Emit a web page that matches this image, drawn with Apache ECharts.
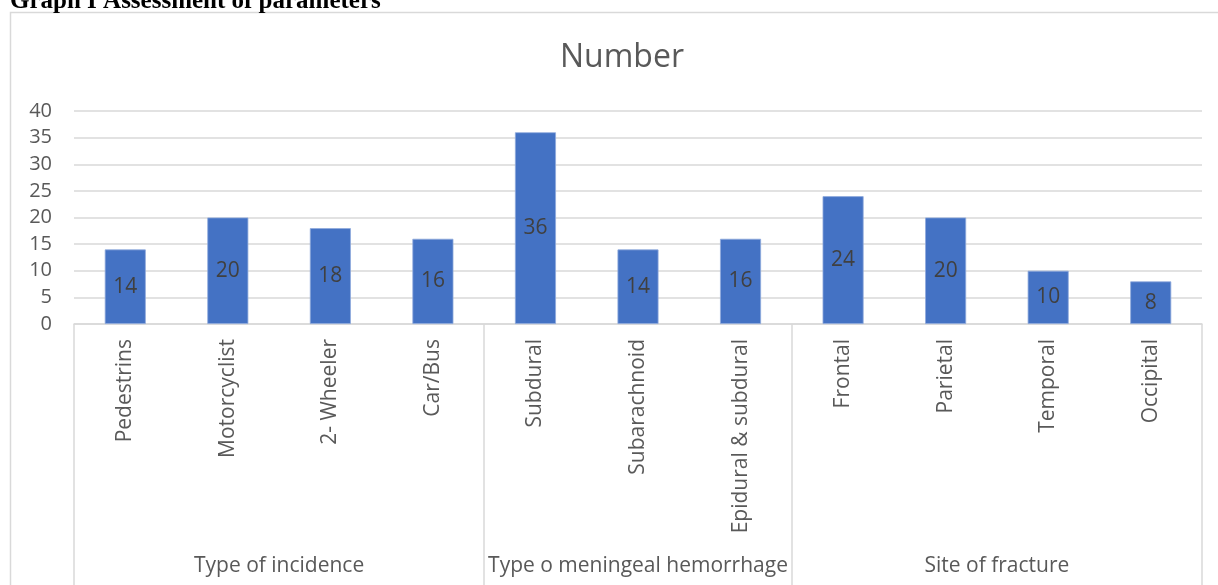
<!DOCTYPE html>
<html>
<head>
<meta charset="utf-8">
<script src="https://cdn.jsdelivr.net/npm/echarts@6/dist/echarts.min.js"></script>
<style>
html,body{margin:0;padding:0;background:#fff;}
#chart{width:1218px;height:585px;}
</style>
</head>
<body>
<div id="chart"></div>
<script>
const pageTitle = "Graph I Assessment of parameters";
const chartTitle = "Number";
const categories = ["Pedestrins","Motorcyclist","2- Wheeler","Car/Bus","Subdural","Subarachnoid","Epidural & subdural","Frontal","Parietal","Temporal","Occipital"];
const values = [14,20,18,16,36,14,16,24,20,10,8];
const groupNames = ["Type of incidence","Type o meningeal hemorrhage","Site of fracture"];
const groupSizes = [4,3,4];
const yTicks = {min:0, max:40, interval:5};

// group boundaries and centers derived from group sizes
const boundaries = [0];
groupSizes.forEach(s => boundaries.push(boundaries[boundaries.length-1] + s));
const centers = groupSizes.map((s,i) => boundaries[i] + s/2);

const FONT = "'Open Sans', 'Liberation Sans', Arial, sans-serif";
const TXT = '#595959';
const LINE = '#d9d9d9';

const chart = echarts.init(document.getElementById('chart'), null, {renderer:'canvas'});
chart.setOption({
  animation:false,
  backgroundColor:'#fff',
  title:{
    text: chartTitle, left: 555, top: 37,
    textStyle:{fontFamily:FONT, fontSize:32, fontWeight:'normal', color:TXT}
  },
  graphic:[
    {type:'rect', shape:{x:10.5,y:12.5,width:1230,height:600}, style:{fill:null, stroke:LINE, lineWidth:1.5}, silent:true, z:-1},
    {type:'text', x:10, y:14, style:{text:pageTitle, verticalAlign:'bottom', font:"bold 25px 'Liberation Serif', 'Times New Roman', serif", fill:'#000'}, z:10}
  ],
  grid:{left:74, right:16, top:111, bottom:261, containLabel:false},
  xAxis:[
    {
      type:'category', data:categories, position:'bottom',
      axisLine:{show:true, lineStyle:{color:LINE, width:1.5}},
      axisTick:{show:false},
      axisLabel:{rotate:90, fontFamily:FONT, fontSize:21, color:TXT, margin:15, interval:0}
    },
    {
      type:'value', min:0, max:categories.length, position:'bottom',
      axisLine:{show:false},
      splitLine:{show:false},
      axisTick:{show:true, inside:false, length:270, customValues:boundaries, lineStyle:{color:LINE, width:1.5}},
      axisLabel:{show:true, customValues:centers, margin:232, fontFamily:FONT, fontSize:21, color:TXT,
        formatter:function(v){ const i = centers.indexOf(v); return i>=0 ? groupNames[i] : ''; }}
    }
  ],
  yAxis:{
    type:'value', min:yTicks.min, max:yTicks.max, interval:yTicks.interval,
    axisLine:{show:false}, axisTick:{show:false},
    splitLine:{lineStyle:{color:LINE, width:1.5}},
    axisLabel:{fontFamily:FONT, fontSize:20, color:TXT, margin:22}
  },
  series:[{
    type:'bar', data:values, xAxisIndex:0, barWidth:'40%',
    itemStyle:{color:'#4472c4', borderColor:'#8faadc', borderWidth:0.8},
    label:{show:true, position:'inside', fontFamily:FONT, fontSize:21, color:'#404040'}
  }]
});
</script>
</body>
</html>
